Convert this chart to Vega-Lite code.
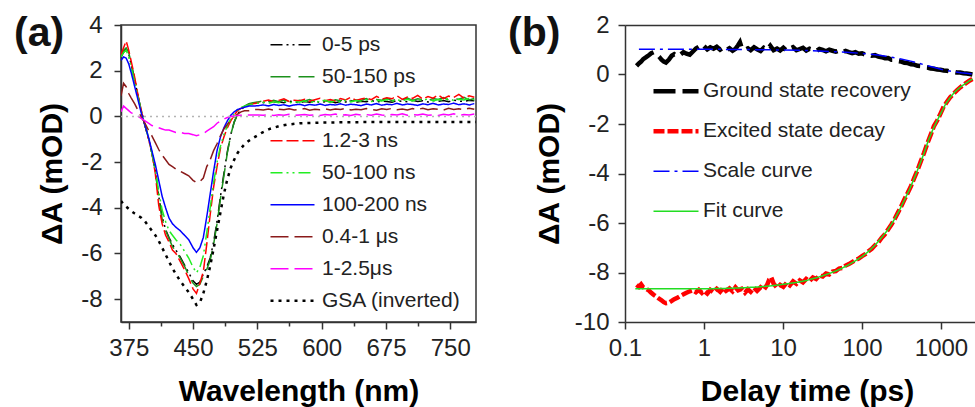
{
  "$schema": "https://vega.github.io/schema/vega-lite/v6.json",
  "background": "white",
  "padding": {"left": 13, "top": 12, "right": 0, "bottom": 0},
  "bounds": "flush",
  "spacing": 149,
  "config": {
    "view": {"stroke": null},
    "font": "Liberation Sans",
    "axis": {
      "domainColor": "#333", "domainWidth": 1.5, "tickColor": "#333", "tickWidth": 1.5, "tickSize": 7,
      "labelFont": "Liberation Sans", "labelFontSize": 24, "labelColor": "#222", "labelPadding": 7,
      "titleFont": "Liberation Sans", "titleFontSize": 30, "titleFontWeight": "bold", "titleColor": "#000",
      "grid": false, "labelFlush": false, "labelOverlap": false
    },
    "axisX": {"titlePadding": 16},
    "axisY": {"titlePadding": 8},
    "legend": {
      "orient": "none", "title": null, "symbolType": "stroke", "labelFont": "Liberation Sans",
      "labelFontSize": 21, "labelColor": "#222", "labelLimit": 400, "padding": 0, "rowPadding": 0, "symbolOffset": 0
    }
  },
  "resolve": {
    "scale": {"color": "independent", "strokeDash": "independent", "strokeWidth": "independent"},
    "legend": {"color": "independent", "strokeDash": "independent", "strokeWidth": "independent"}
  },
  "datasets": {
    "spectra": [
      {"s":"0-5 ps","nm":366,"dA":2.6},{"s":"0-5 ps","nm":369,"dA":2.8},{"s":"0-5 ps","nm":372,"dA":2.95},{"s":"0-5 ps","nm":375,"dA":2.75},{"s":"0-5 ps","nm":378,"dA":2.25},{"s":"0-5 ps","nm":382,"dA":1.6},{"s":"0-5 ps","nm":386,"dA":0.85},{"s":"0-5 ps","nm":390,"dA":0.2},{"s":"0-5 ps","nm":394,"dA":-0.4},{"s":"0-5 ps","nm":398,"dA":-0.95},{"s":"0-5 ps","nm":402,"dA":-1.6},{"s":"0-5 ps","nm":406,"dA":-2.35},{"s":"0-5 ps","nm":410,"dA":-3.5},{"s":"0-5 ps","nm":414,"dA":-4.4},{"s":"0-5 ps","nm":418,"dA":-4.95},{"s":"0-5 ps","nm":422,"dA":-5.3},{"s":"0-5 ps","nm":426,"dA":-5.6},{"s":"0-5 ps","nm":430,"dA":-5.85},{"s":"0-5 ps","nm":435,"dA":-6.15},{"s":"0-5 ps","nm":440,"dA":-6.5},{"s":"0-5 ps","nm":445,"dA":-6.85},{"s":"0-5 ps","nm":450,"dA":-7.2},{"s":"0-5 ps","nm":454,"dA":-7.35},{"s":"0-5 ps","nm":458,"dA":-7.25},{"s":"0-5 ps","nm":462,"dA":-6.9},{"s":"0-5 ps","nm":466,"dA":-6.6},{"s":"0-5 ps","nm":470,"dA":-6.2},{"s":"0-5 ps","nm":474,"dA":-5.5},{"s":"0-5 ps","nm":478,"dA":-4.6},{"s":"0-5 ps","nm":482,"dA":-3.5},{"s":"0-5 ps","nm":486,"dA":-2.5},{"s":"0-5 ps","nm":490,"dA":-1.55},{"s":"0-5 ps","nm":494,"dA":-0.8},{"s":"0-5 ps","nm":498,"dA":-0.25},{"s":"0-5 ps","nm":502,"dA":0.1},{"s":"0-5 ps","nm":506,"dA":0.3},{"s":"0-5 ps","nm":510,"dA":0.42},{"s":"0-5 ps","nm":515,"dA":0.52},{"s":"0-5 ps","nm":520,"dA":0.58},
      {"s":"0-5 ps","nm":526,"dA":0.62},{"s":"0-5 ps","nm":532,"dA":0.6},{"s":"0-5 ps","nm":538,"dA":0.66},{"s":"0-5 ps","nm":544,"dA":0.61},{"s":"0-5 ps","nm":550,"dA":0.64},{"s":"0-5 ps","nm":556,"dA":0.6},{"s":"0-5 ps","nm":562,"dA":0.67},{"s":"0-5 ps","nm":568,"dA":0.63},{"s":"0-5 ps","nm":574,"dA":0.6},{"s":"0-5 ps","nm":580,"dA":0.65},{"s":"0-5 ps","nm":586,"dA":0.62},{"s":"0-5 ps","nm":592,"dA":0.68},{"s":"0-5 ps","nm":598,"dA":0.61},{"s":"0-5 ps","nm":604,"dA":0.64},{"s":"0-5 ps","nm":610,"dA":0.66},{"s":"0-5 ps","nm":616,"dA":0.6},{"s":"0-5 ps","nm":622,"dA":0.65},{"s":"0-5 ps","nm":628,"dA":0.63},{"s":"0-5 ps","nm":634,"dA":0.69},{"s":"0-5 ps","nm":640,"dA":0.62},{"s":"0-5 ps","nm":646,"dA":0.66},{"s":"0-5 ps","nm":652,"dA":0.64},{"s":"0-5 ps","nm":658,"dA":0.7},{"s":"0-5 ps","nm":664,"dA":0.63},{"s":"0-5 ps","nm":670,"dA":0.67},{"s":"0-5 ps","nm":676,"dA":0.65},{"s":"0-5 ps","nm":682,"dA":0.62},{"s":"0-5 ps","nm":688,"dA":0.69},{"s":"0-5 ps","nm":694,"dA":0.66},{"s":"0-5 ps","nm":700,"dA":0.64},{"s":"0-5 ps","nm":706,"dA":0.7},{"s":"0-5 ps","nm":712,"dA":0.65},{"s":"0-5 ps","nm":718,"dA":0.68},{"s":"0-5 ps","nm":724,"dA":0.63},{"s":"0-5 ps","nm":730,"dA":0.7},{"s":"0-5 ps","nm":736,"dA":0.66},{"s":"0-5 ps","nm":742,"dA":0.69},{"s":"0-5 ps","nm":748,"dA":0.64},{"s":"0-5 ps","nm":754,"dA":0.71},{"s":"0-5 ps","nm":760,"dA":0.67},{"s":"0-5 ps","nm":766,"dA":0.65},{"s":"0-5 ps","nm":772,"dA":0.7},{"s":"0-5 ps","nm":778,"dA":0.68},

      {"s":"50-150 ps","nm":366,"dA":2.7},{"s":"50-150 ps","nm":369,"dA":2.9},{"s":"50-150 ps","nm":372,"dA":3.0},{"s":"50-150 ps","nm":375,"dA":2.8},{"s":"50-150 ps","nm":378,"dA":2.3},{"s":"50-150 ps","nm":382,"dA":1.6},{"s":"50-150 ps","nm":386,"dA":0.85},{"s":"50-150 ps","nm":390,"dA":0.2},{"s":"50-150 ps","nm":394,"dA":-0.4},{"s":"50-150 ps","nm":398,"dA":-0.95},{"s":"50-150 ps","nm":402,"dA":-1.6},{"s":"50-150 ps","nm":406,"dA":-2.4},{"s":"50-150 ps","nm":410,"dA":-3.6},{"s":"50-150 ps","nm":414,"dA":-4.5},{"s":"50-150 ps","nm":418,"dA":-5.0},{"s":"50-150 ps","nm":422,"dA":-5.35},{"s":"50-150 ps","nm":426,"dA":-5.7},{"s":"50-150 ps","nm":430,"dA":-5.9},{"s":"50-150 ps","nm":435,"dA":-6.2},{"s":"50-150 ps","nm":440,"dA":-6.55},{"s":"50-150 ps","nm":445,"dA":-6.95},{"s":"50-150 ps","nm":450,"dA":-7.3},{"s":"50-150 ps","nm":454,"dA":-7.45},{"s":"50-150 ps","nm":458,"dA":-7.35},{"s":"50-150 ps","nm":462,"dA":-7.0},{"s":"50-150 ps","nm":466,"dA":-6.7},{"s":"50-150 ps","nm":470,"dA":-6.3},{"s":"50-150 ps","nm":474,"dA":-5.6},{"s":"50-150 ps","nm":478,"dA":-4.7},{"s":"50-150 ps","nm":482,"dA":-3.6},{"s":"50-150 ps","nm":486,"dA":-2.6},{"s":"50-150 ps","nm":490,"dA":-1.6},{"s":"50-150 ps","nm":494,"dA":-0.8},{"s":"50-150 ps","nm":498,"dA":-0.25},{"s":"50-150 ps","nm":502,"dA":0.1},{"s":"50-150 ps","nm":506,"dA":0.3},{"s":"50-150 ps","nm":510,"dA":0.45},{"s":"50-150 ps","nm":515,"dA":0.55},{"s":"50-150 ps","nm":520,"dA":0.6},
      {"s":"50-150 ps","nm":526,"dA":0.63},{"s":"50-150 ps","nm":532,"dA":0.68},{"s":"50-150 ps","nm":538,"dA":0.62},{"s":"50-150 ps","nm":544,"dA":0.7},{"s":"50-150 ps","nm":550,"dA":0.64},{"s":"50-150 ps","nm":556,"dA":0.72},{"s":"50-150 ps","nm":562,"dA":0.66},{"s":"50-150 ps","nm":568,"dA":0.61},{"s":"50-150 ps","nm":574,"dA":0.7},{"s":"50-150 ps","nm":580,"dA":0.67},{"s":"50-150 ps","nm":586,"dA":0.74},{"s":"50-150 ps","nm":592,"dA":0.65},{"s":"50-150 ps","nm":598,"dA":0.71},{"s":"50-150 ps","nm":604,"dA":0.68},{"s":"50-150 ps","nm":610,"dA":0.63},{"s":"50-150 ps","nm":616,"dA":0.73},{"s":"50-150 ps","nm":622,"dA":0.69},{"s":"50-150 ps","nm":628,"dA":0.76},{"s":"50-150 ps","nm":634,"dA":0.66},{"s":"50-150 ps","nm":640,"dA":0.72},{"s":"50-150 ps","nm":646,"dA":0.7},{"s":"50-150 ps","nm":652,"dA":0.78},{"s":"50-150 ps","nm":658,"dA":0.68},{"s":"50-150 ps","nm":664,"dA":0.74},{"s":"50-150 ps","nm":670,"dA":0.71},{"s":"50-150 ps","nm":676,"dA":0.79},{"s":"50-150 ps","nm":682,"dA":0.69},{"s":"50-150 ps","nm":688,"dA":0.75},{"s":"50-150 ps","nm":694,"dA":0.72},{"s":"50-150 ps","nm":700,"dA":0.8},{"s":"50-150 ps","nm":706,"dA":0.7},{"s":"50-150 ps","nm":712,"dA":0.77},{"s":"50-150 ps","nm":718,"dA":0.73},{"s":"50-150 ps","nm":724,"dA":0.69},{"s":"50-150 ps","nm":730,"dA":0.78},{"s":"50-150 ps","nm":736,"dA":0.74},{"s":"50-150 ps","nm":742,"dA":0.82},{"s":"50-150 ps","nm":748,"dA":0.71},{"s":"50-150 ps","nm":754,"dA":0.77},{"s":"50-150 ps","nm":760,"dA":0.75},{"s":"50-150 ps","nm":766,"dA":0.83},{"s":"50-150 ps","nm":772,"dA":0.72},{"s":"50-150 ps","nm":778,"dA":0.78},

      {"s":"1.2-3 ns","nm":366,"dA":2.7},{"s":"1.2-3 ns","nm":369,"dA":3.0},{"s":"1.2-3 ns","nm":372,"dA":3.3},{"s":"1.2-3 ns","nm":375,"dA":2.9},{"s":"1.2-3 ns","nm":378,"dA":2.4},{"s":"1.2-3 ns","nm":382,"dA":1.7},{"s":"1.2-3 ns","nm":386,"dA":0.9},{"s":"1.2-3 ns","nm":390,"dA":0.2},{"s":"1.2-3 ns","nm":394,"dA":-0.4},{"s":"1.2-3 ns","nm":398,"dA":-0.95},{"s":"1.2-3 ns","nm":402,"dA":-1.6},{"s":"1.2-3 ns","nm":406,"dA":-2.5},{"s":"1.2-3 ns","nm":410,"dA":-3.9},{"s":"1.2-3 ns","nm":414,"dA":-4.7},{"s":"1.2-3 ns","nm":418,"dA":-5.2},{"s":"1.2-3 ns","nm":422,"dA":-5.5},{"s":"1.2-3 ns","nm":426,"dA":-5.85},{"s":"1.2-3 ns","nm":430,"dA":-6.0},{"s":"1.2-3 ns","nm":435,"dA":-6.35},{"s":"1.2-3 ns","nm":440,"dA":-6.7},{"s":"1.2-3 ns","nm":445,"dA":-7.1},{"s":"1.2-3 ns","nm":450,"dA":-7.55},{"s":"1.2-3 ns","nm":454,"dA":-7.75},{"s":"1.2-3 ns","nm":458,"dA":-7.3},{"s":"1.2-3 ns","nm":462,"dA":-6.8},{"s":"1.2-3 ns","nm":466,"dA":-5.6},{"s":"1.2-3 ns","nm":470,"dA":-4.3},{"s":"1.2-3 ns","nm":474,"dA":-3.1},{"s":"1.2-3 ns","nm":478,"dA":-2.2},{"s":"1.2-3 ns","nm":482,"dA":-1.4},{"s":"1.2-3 ns","nm":486,"dA":-0.9},{"s":"1.2-3 ns","nm":490,"dA":-0.5},{"s":"1.2-3 ns","nm":494,"dA":-0.2},{"s":"1.2-3 ns","nm":498,"dA":0.05},{"s":"1.2-3 ns","nm":502,"dA":0.25},{"s":"1.2-3 ns","nm":506,"dA":0.35},{"s":"1.2-3 ns","nm":510,"dA":0.45},{"s":"1.2-3 ns","nm":515,"dA":0.5},{"s":"1.2-3 ns","nm":520,"dA":0.55},
      {"s":"1.2-3 ns","nm":526,"dA":0.6},{"s":"1.2-3 ns","nm":532,"dA":0.66},{"s":"1.2-3 ns","nm":538,"dA":0.72},{"s":"1.2-3 ns","nm":544,"dA":0.64},{"s":"1.2-3 ns","nm":550,"dA":0.7},{"s":"1.2-3 ns","nm":556,"dA":0.77},{"s":"1.2-3 ns","nm":562,"dA":0.65},{"s":"1.2-3 ns","nm":568,"dA":0.71},{"s":"1.2-3 ns","nm":574,"dA":0.68},{"s":"1.2-3 ns","nm":580,"dA":0.75},{"s":"1.2-3 ns","nm":586,"dA":0.66},{"s":"1.2-3 ns","nm":592,"dA":0.73},{"s":"1.2-3 ns","nm":598,"dA":0.79},{"s":"1.2-3 ns","nm":604,"dA":0.69},{"s":"1.2-3 ns","nm":610,"dA":0.74},{"s":"1.2-3 ns","nm":616,"dA":0.67},{"s":"1.2-3 ns","nm":622,"dA":0.78},{"s":"1.2-3 ns","nm":628,"dA":0.72},{"s":"1.2-3 ns","nm":634,"dA":0.84},{"s":"1.2-3 ns","nm":640,"dA":0.7},{"s":"1.2-3 ns","nm":646,"dA":0.76},{"s":"1.2-3 ns","nm":652,"dA":0.81},{"s":"1.2-3 ns","nm":658,"dA":0.73},{"s":"1.2-3 ns","nm":664,"dA":0.88},{"s":"1.2-3 ns","nm":670,"dA":0.75},{"s":"1.2-3 ns","nm":676,"dA":0.82},{"s":"1.2-3 ns","nm":682,"dA":0.77},{"s":"1.2-3 ns","nm":688,"dA":0.9},{"s":"1.2-3 ns","nm":694,"dA":0.74},{"s":"1.2-3 ns","nm":700,"dA":0.85},{"s":"1.2-3 ns","nm":706,"dA":0.79},{"s":"1.2-3 ns","nm":712,"dA":0.92},{"s":"1.2-3 ns","nm":718,"dA":0.76},{"s":"1.2-3 ns","nm":724,"dA":0.87},{"s":"1.2-3 ns","nm":730,"dA":0.8},{"s":"1.2-3 ns","nm":736,"dA":0.94},{"s":"1.2-3 ns","nm":742,"dA":0.78},{"s":"1.2-3 ns","nm":748,"dA":0.89},{"s":"1.2-3 ns","nm":754,"dA":0.83},{"s":"1.2-3 ns","nm":760,"dA":0.96},{"s":"1.2-3 ns","nm":766,"dA":0.8},{"s":"1.2-3 ns","nm":772,"dA":0.9},{"s":"1.2-3 ns","nm":778,"dA":0.84},

      {"s":"50-100 ns","nm":366,"dA":2.6},{"s":"50-100 ns","nm":369,"dA":2.8},{"s":"50-100 ns","nm":372,"dA":2.9},{"s":"50-100 ns","nm":375,"dA":2.6},{"s":"50-100 ns","nm":378,"dA":2.1},{"s":"50-100 ns","nm":382,"dA":1.5},{"s":"50-100 ns","nm":386,"dA":0.8},{"s":"50-100 ns","nm":390,"dA":0.15},{"s":"50-100 ns","nm":394,"dA":-0.4},{"s":"50-100 ns","nm":398,"dA":-0.9},{"s":"50-100 ns","nm":402,"dA":-1.6},{"s":"50-100 ns","nm":406,"dA":-2.3},{"s":"50-100 ns","nm":410,"dA":-3.3},{"s":"50-100 ns","nm":414,"dA":-4.1},{"s":"50-100 ns","nm":418,"dA":-4.6},{"s":"50-100 ns","nm":422,"dA":-5.0},{"s":"50-100 ns","nm":426,"dA":-5.2},{"s":"50-100 ns","nm":430,"dA":-5.4},{"s":"50-100 ns","nm":435,"dA":-5.6},{"s":"50-100 ns","nm":440,"dA":-5.9},{"s":"50-100 ns","nm":445,"dA":-6.2},{"s":"50-100 ns","nm":450,"dA":-6.6},{"s":"50-100 ns","nm":454,"dA":-6.85},{"s":"50-100 ns","nm":458,"dA":-6.6},{"s":"50-100 ns","nm":462,"dA":-6.1},{"s":"50-100 ns","nm":466,"dA":-5.1},{"s":"50-100 ns","nm":470,"dA":-4.0},{"s":"50-100 ns","nm":474,"dA":-2.9},{"s":"50-100 ns","nm":478,"dA":-2.0},{"s":"50-100 ns","nm":482,"dA":-1.3},{"s":"50-100 ns","nm":486,"dA":-0.8},{"s":"50-100 ns","nm":490,"dA":-0.4},{"s":"50-100 ns","nm":494,"dA":-0.1},{"s":"50-100 ns","nm":498,"dA":0.1},{"s":"50-100 ns","nm":502,"dA":0.3},{"s":"50-100 ns","nm":506,"dA":0.4},{"s":"50-100 ns","nm":510,"dA":0.45},{"s":"50-100 ns","nm":515,"dA":0.5},{"s":"50-100 ns","nm":520,"dA":0.55},
      {"s":"50-100 ns","nm":526,"dA":0.58},{"s":"50-100 ns","nm":532,"dA":0.62},{"s":"50-100 ns","nm":538,"dA":0.57},{"s":"50-100 ns","nm":544,"dA":0.64},{"s":"50-100 ns","nm":550,"dA":0.6},{"s":"50-100 ns","nm":556,"dA":0.66},{"s":"50-100 ns","nm":562,"dA":0.59},{"s":"50-100 ns","nm":568,"dA":0.65},{"s":"50-100 ns","nm":574,"dA":0.62},{"s":"50-100 ns","nm":580,"dA":0.68},{"s":"50-100 ns","nm":586,"dA":0.6},{"s":"50-100 ns","nm":592,"dA":0.66},{"s":"50-100 ns","nm":598,"dA":0.63},{"s":"50-100 ns","nm":604,"dA":0.7},{"s":"50-100 ns","nm":610,"dA":0.62},{"s":"50-100 ns","nm":616,"dA":0.67},{"s":"50-100 ns","nm":622,"dA":0.64},{"s":"50-100 ns","nm":628,"dA":0.71},{"s":"50-100 ns","nm":634,"dA":0.63},{"s":"50-100 ns","nm":640,"dA":0.69},{"s":"50-100 ns","nm":646,"dA":0.66},{"s":"50-100 ns","nm":652,"dA":0.73},{"s":"50-100 ns","nm":658,"dA":0.65},{"s":"50-100 ns","nm":664,"dA":0.7},{"s":"50-100 ns","nm":670,"dA":0.67},{"s":"50-100 ns","nm":676,"dA":0.74},{"s":"50-100 ns","nm":682,"dA":0.66},{"s":"50-100 ns","nm":688,"dA":0.72},{"s":"50-100 ns","nm":694,"dA":0.68},{"s":"50-100 ns","nm":700,"dA":0.75},{"s":"50-100 ns","nm":706,"dA":0.67},{"s":"50-100 ns","nm":712,"dA":0.73},{"s":"50-100 ns","nm":718,"dA":0.7},{"s":"50-100 ns","nm":724,"dA":0.77},{"s":"50-100 ns","nm":730,"dA":0.68},{"s":"50-100 ns","nm":736,"dA":0.74},{"s":"50-100 ns","nm":742,"dA":0.71},{"s":"50-100 ns","nm":748,"dA":0.78},{"s":"50-100 ns","nm":754,"dA":0.7},{"s":"50-100 ns","nm":760,"dA":0.75},{"s":"50-100 ns","nm":766,"dA":0.72},{"s":"50-100 ns","nm":772,"dA":0.79},{"s":"50-100 ns","nm":778,"dA":0.73},

      {"s":"100-200 ns","nm":366,"dA":2.45},{"s":"100-200 ns","nm":369,"dA":2.6},{"s":"100-200 ns","nm":372,"dA":2.55},{"s":"100-200 ns","nm":375,"dA":2.3},{"s":"100-200 ns","nm":378,"dA":1.9},{"s":"100-200 ns","nm":382,"dA":1.3},{"s":"100-200 ns","nm":386,"dA":0.7},{"s":"100-200 ns","nm":390,"dA":0.1},{"s":"100-200 ns","nm":394,"dA":-0.4},{"s":"100-200 ns","nm":398,"dA":-0.9},{"s":"100-200 ns","nm":402,"dA":-1.5},{"s":"100-200 ns","nm":406,"dA":-2.1},{"s":"100-200 ns","nm":410,"dA":-2.8},{"s":"100-200 ns","nm":414,"dA":-3.5},{"s":"100-200 ns","nm":418,"dA":-4.0},{"s":"100-200 ns","nm":422,"dA":-4.45},{"s":"100-200 ns","nm":426,"dA":-4.7},{"s":"100-200 ns","nm":430,"dA":-4.85},{"s":"100-200 ns","nm":435,"dA":-5.0},{"s":"100-200 ns","nm":440,"dA":-5.2},{"s":"100-200 ns","nm":445,"dA":-5.4},{"s":"100-200 ns","nm":450,"dA":-5.75},{"s":"100-200 ns","nm":454,"dA":-5.95},{"s":"100-200 ns","nm":458,"dA":-5.75},{"s":"100-200 ns","nm":462,"dA":-5.3},{"s":"100-200 ns","nm":466,"dA":-4.4},{"s":"100-200 ns","nm":470,"dA":-3.4},{"s":"100-200 ns","nm":474,"dA":-2.4},{"s":"100-200 ns","nm":478,"dA":-1.5},{"s":"100-200 ns","nm":482,"dA":-0.9},{"s":"100-200 ns","nm":486,"dA":-0.5},{"s":"100-200 ns","nm":490,"dA":-0.2},{"s":"100-200 ns","nm":494,"dA":0.05},{"s":"100-200 ns","nm":498,"dA":0.2},{"s":"100-200 ns","nm":502,"dA":0.3},{"s":"100-200 ns","nm":506,"dA":0.35},{"s":"100-200 ns","nm":510,"dA":0.4},{"s":"100-200 ns","nm":515,"dA":0.45},{"s":"100-200 ns","nm":520,"dA":0.45},
      {"s":"100-200 ns","nm":526,"dA":0.47},{"s":"100-200 ns","nm":532,"dA":0.5},{"s":"100-200 ns","nm":538,"dA":0.46},{"s":"100-200 ns","nm":544,"dA":0.52},{"s":"100-200 ns","nm":550,"dA":0.48},{"s":"100-200 ns","nm":556,"dA":0.51},{"s":"100-200 ns","nm":562,"dA":0.45},{"s":"100-200 ns","nm":568,"dA":0.5},{"s":"100-200 ns","nm":574,"dA":0.53},{"s":"100-200 ns","nm":580,"dA":0.47},{"s":"100-200 ns","nm":586,"dA":0.52},{"s":"100-200 ns","nm":592,"dA":0.49},{"s":"100-200 ns","nm":598,"dA":0.54},{"s":"100-200 ns","nm":604,"dA":0.48},{"s":"100-200 ns","nm":610,"dA":0.52},{"s":"100-200 ns","nm":616,"dA":0.5},{"s":"100-200 ns","nm":622,"dA":0.55},{"s":"100-200 ns","nm":628,"dA":0.49},{"s":"100-200 ns","nm":634,"dA":0.53},{"s":"100-200 ns","nm":640,"dA":0.51},{"s":"100-200 ns","nm":646,"dA":0.47},{"s":"100-200 ns","nm":652,"dA":0.54},{"s":"100-200 ns","nm":658,"dA":0.5},{"s":"100-200 ns","nm":664,"dA":0.56},{"s":"100-200 ns","nm":670,"dA":0.49},{"s":"100-200 ns","nm":676,"dA":0.53},{"s":"100-200 ns","nm":682,"dA":0.51},{"s":"100-200 ns","nm":688,"dA":0.57},{"s":"100-200 ns","nm":694,"dA":0.5},{"s":"100-200 ns","nm":700,"dA":0.54},{"s":"100-200 ns","nm":706,"dA":0.52},{"s":"100-200 ns","nm":712,"dA":0.48},{"s":"100-200 ns","nm":718,"dA":0.55},{"s":"100-200 ns","nm":724,"dA":0.51},{"s":"100-200 ns","nm":730,"dA":0.57},{"s":"100-200 ns","nm":736,"dA":0.5},{"s":"100-200 ns","nm":742,"dA":0.54},{"s":"100-200 ns","nm":748,"dA":0.52},{"s":"100-200 ns","nm":754,"dA":0.58},{"s":"100-200 ns","nm":760,"dA":0.51},{"s":"100-200 ns","nm":766,"dA":0.55},{"s":"100-200 ns","nm":772,"dA":0.5},{"s":"100-200 ns","nm":778,"dA":0.56},

      {"s":"0.4-1 μs","nm":366,"dA":0.9},{"s":"0.4-1 μs","nm":369,"dA":1.45},{"s":"0.4-1 μs","nm":372,"dA":1.3},{"s":"0.4-1 μs","nm":375,"dA":1.0},{"s":"0.4-1 μs","nm":378,"dA":0.8},{"s":"0.4-1 μs","nm":382,"dA":0.55},{"s":"0.4-1 μs","nm":386,"dA":0.25},{"s":"0.4-1 μs","nm":390,"dA":-0.05},{"s":"0.4-1 μs","nm":394,"dA":-0.3},{"s":"0.4-1 μs","nm":398,"dA":-0.6},{"s":"0.4-1 μs","nm":402,"dA":-0.85},{"s":"0.4-1 μs","nm":406,"dA":-1.15},{"s":"0.4-1 μs","nm":410,"dA":-1.45},{"s":"0.4-1 μs","nm":414,"dA":-1.7},{"s":"0.4-1 μs","nm":418,"dA":-1.9},{"s":"0.4-1 μs","nm":422,"dA":-2.1},{"s":"0.4-1 μs","nm":426,"dA":-2.2},{"s":"0.4-1 μs","nm":430,"dA":-2.3},{"s":"0.4-1 μs","nm":435,"dA":-2.4},{"s":"0.4-1 μs","nm":440,"dA":-2.5},{"s":"0.4-1 μs","nm":445,"dA":-2.6},{"s":"0.4-1 μs","nm":450,"dA":-2.8},{"s":"0.4-1 μs","nm":454,"dA":-2.9},{"s":"0.4-1 μs","nm":458,"dA":-2.85},{"s":"0.4-1 μs","nm":462,"dA":-2.7},{"s":"0.4-1 μs","nm":466,"dA":-2.2},{"s":"0.4-1 μs","nm":470,"dA":-1.9},{"s":"0.4-1 μs","nm":474,"dA":-1.5},{"s":"0.4-1 μs","nm":478,"dA":-1.2},{"s":"0.4-1 μs","nm":482,"dA":-0.85},{"s":"0.4-1 μs","nm":486,"dA":-0.55},{"s":"0.4-1 μs","nm":490,"dA":-0.35},{"s":"0.4-1 μs","nm":494,"dA":-0.15},{"s":"0.4-1 μs","nm":498,"dA":-0.02},{"s":"0.4-1 μs","nm":502,"dA":0.1},{"s":"0.4-1 μs","nm":506,"dA":0.2},{"s":"0.4-1 μs","nm":510,"dA":0.25},{"s":"0.4-1 μs","nm":515,"dA":0.25},{"s":"0.4-1 μs","nm":520,"dA":0.3},
      {"s":"0.4-1 μs","nm":526,"dA":0.3},{"s":"0.4-1 μs","nm":532,"dA":0.28},{"s":"0.4-1 μs","nm":538,"dA":0.32},{"s":"0.4-1 μs","nm":544,"dA":0.27},{"s":"0.4-1 μs","nm":550,"dA":0.31},{"s":"0.4-1 μs","nm":556,"dA":0.29},{"s":"0.4-1 μs","nm":562,"dA":0.33},{"s":"0.4-1 μs","nm":568,"dA":0.28},{"s":"0.4-1 μs","nm":574,"dA":0.3},{"s":"0.4-1 μs","nm":580,"dA":0.34},{"s":"0.4-1 μs","nm":586,"dA":0.27},{"s":"0.4-1 μs","nm":592,"dA":0.31},{"s":"0.4-1 μs","nm":598,"dA":0.29},{"s":"0.4-1 μs","nm":604,"dA":0.33},{"s":"0.4-1 μs","nm":610,"dA":0.28},{"s":"0.4-1 μs","nm":616,"dA":0.32},{"s":"0.4-1 μs","nm":622,"dA":0.3},{"s":"0.4-1 μs","nm":628,"dA":0.35},{"s":"0.4-1 μs","nm":634,"dA":0.28},{"s":"0.4-1 μs","nm":640,"dA":0.31},{"s":"0.4-1 μs","nm":646,"dA":0.29},{"s":"0.4-1 μs","nm":652,"dA":0.34},{"s":"0.4-1 μs","nm":658,"dA":0.3},{"s":"0.4-1 μs","nm":664,"dA":0.27},{"s":"0.4-1 μs","nm":670,"dA":0.33},{"s":"0.4-1 μs","nm":676,"dA":0.3},{"s":"0.4-1 μs","nm":682,"dA":0.35},{"s":"0.4-1 μs","nm":688,"dA":0.29},{"s":"0.4-1 μs","nm":694,"dA":0.32},{"s":"0.4-1 μs","nm":700,"dA":0.28},{"s":"0.4-1 μs","nm":706,"dA":0.34},{"s":"0.4-1 μs","nm":712,"dA":0.3},{"s":"0.4-1 μs","nm":718,"dA":0.36},{"s":"0.4-1 μs","nm":724,"dA":0.29},{"s":"0.4-1 μs","nm":730,"dA":0.33},{"s":"0.4-1 μs","nm":736,"dA":0.31},{"s":"0.4-1 μs","nm":742,"dA":0.28},{"s":"0.4-1 μs","nm":748,"dA":0.35},{"s":"0.4-1 μs","nm":754,"dA":0.3},{"s":"0.4-1 μs","nm":760,"dA":0.33},{"s":"0.4-1 μs","nm":766,"dA":0.29},{"s":"0.4-1 μs","nm":772,"dA":0.36},{"s":"0.4-1 μs","nm":778,"dA":0.31},

      {"s":"1-2.5μs","nm":366,"dA":0.2},{"s":"1-2.5μs","nm":369,"dA":0.45},{"s":"1-2.5μs","nm":372,"dA":0.35},{"s":"1-2.5μs","nm":375,"dA":0.25},{"s":"1-2.5μs","nm":378,"dA":0.15},{"s":"1-2.5μs","nm":382,"dA":0.1},{"s":"1-2.5μs","nm":386,"dA":0.0},{"s":"1-2.5μs","nm":390,"dA":-0.1},{"s":"1-2.5μs","nm":394,"dA":-0.2},{"s":"1-2.5μs","nm":398,"dA":-0.3},{"s":"1-2.5μs","nm":402,"dA":-0.4},{"s":"1-2.5μs","nm":406,"dA":-0.45},{"s":"1-2.5μs","nm":410,"dA":-0.5},{"s":"1-2.5μs","nm":414,"dA":-0.55},{"s":"1-2.5μs","nm":418,"dA":-0.6},{"s":"1-2.5μs","nm":422,"dA":-0.6},{"s":"1-2.5μs","nm":426,"dA":-0.65},{"s":"1-2.5μs","nm":430,"dA":-0.7},{"s":"1-2.5μs","nm":435,"dA":-0.7},{"s":"1-2.5μs","nm":440,"dA":-0.75},{"s":"1-2.5μs","nm":445,"dA":-0.75},{"s":"1-2.5μs","nm":450,"dA":-0.8},{"s":"1-2.5μs","nm":454,"dA":-0.85},{"s":"1-2.5μs","nm":458,"dA":-0.8},{"s":"1-2.5μs","nm":462,"dA":-0.75},{"s":"1-2.5μs","nm":466,"dA":-0.65},{"s":"1-2.5μs","nm":470,"dA":-0.55},{"s":"1-2.5μs","nm":474,"dA":-0.45},{"s":"1-2.5μs","nm":478,"dA":-0.3},{"s":"1-2.5μs","nm":482,"dA":-0.2},{"s":"1-2.5μs","nm":486,"dA":-0.12},{"s":"1-2.5μs","nm":490,"dA":-0.05},{"s":"1-2.5μs","nm":494,"dA":0.0},{"s":"1-2.5μs","nm":498,"dA":0.02},{"s":"1-2.5μs","nm":502,"dA":0.04},{"s":"1-2.5μs","nm":506,"dA":0.05},{"s":"1-2.5μs","nm":510,"dA":0.05},{"s":"1-2.5μs","nm":515,"dA":0.06},{"s":"1-2.5μs","nm":520,"dA":0.06},
      {"s":"1-2.5μs","nm":526,"dA":0.06},{"s":"1-2.5μs","nm":532,"dA":0.05},{"s":"1-2.5μs","nm":538,"dA":0.08},{"s":"1-2.5μs","nm":544,"dA":0.04},{"s":"1-2.5μs","nm":550,"dA":0.07},{"s":"1-2.5μs","nm":556,"dA":0.05},{"s":"1-2.5μs","nm":562,"dA":0.09},{"s":"1-2.5μs","nm":568,"dA":0.04},{"s":"1-2.5μs","nm":574,"dA":0.06},{"s":"1-2.5μs","nm":580,"dA":0.08},{"s":"1-2.5μs","nm":586,"dA":0.05},{"s":"1-2.5μs","nm":592,"dA":0.07},{"s":"1-2.5μs","nm":598,"dA":0.04},{"s":"1-2.5μs","nm":604,"dA":0.08},{"s":"1-2.5μs","nm":610,"dA":0.06},{"s":"1-2.5μs","nm":616,"dA":0.1},{"s":"1-2.5μs","nm":622,"dA":0.05},{"s":"1-2.5μs","nm":628,"dA":0.07},{"s":"1-2.5μs","nm":634,"dA":0.04},{"s":"1-2.5μs","nm":640,"dA":0.09},{"s":"1-2.5μs","nm":646,"dA":0.06},{"s":"1-2.5μs","nm":652,"dA":0.08},{"s":"1-2.5μs","nm":658,"dA":0.05},{"s":"1-2.5μs","nm":664,"dA":0.1},{"s":"1-2.5μs","nm":670,"dA":0.06},{"s":"1-2.5μs","nm":676,"dA":0.04},{"s":"1-2.5μs","nm":682,"dA":0.08},{"s":"1-2.5μs","nm":688,"dA":0.06},{"s":"1-2.5μs","nm":694,"dA":0.11},{"s":"1-2.5μs","nm":700,"dA":0.05},{"s":"1-2.5μs","nm":706,"dA":0.08},{"s":"1-2.5μs","nm":712,"dA":0.06},{"s":"1-2.5μs","nm":718,"dA":0.1},{"s":"1-2.5μs","nm":724,"dA":0.05},{"s":"1-2.5μs","nm":730,"dA":0.07},{"s":"1-2.5μs","nm":736,"dA":0.04},{"s":"1-2.5μs","nm":742,"dA":0.09},{"s":"1-2.5μs","nm":748,"dA":0.06},{"s":"1-2.5μs","nm":754,"dA":0.11},{"s":"1-2.5μs","nm":760,"dA":0.05},{"s":"1-2.5μs","nm":766,"dA":0.08},{"s":"1-2.5μs","nm":772,"dA":0.06},{"s":"1-2.5μs","nm":778,"dA":0.1},

      {"s":"GSA (inverted)","nm":366,"dA":-3.7},{"s":"GSA (inverted)","nm":369,"dA":-3.85},{"s":"GSA (inverted)","nm":372,"dA":-3.95},{"s":"GSA (inverted)","nm":375,"dA":-4.05},{"s":"GSA (inverted)","nm":378,"dA":-4.15},{"s":"GSA (inverted)","nm":382,"dA":-4.25},{"s":"GSA (inverted)","nm":386,"dA":-4.35},{"s":"GSA (inverted)","nm":390,"dA":-4.45},{"s":"GSA (inverted)","nm":394,"dA":-4.6},{"s":"GSA (inverted)","nm":398,"dA":-4.8},{"s":"GSA (inverted)","nm":402,"dA":-5.0},{"s":"GSA (inverted)","nm":406,"dA":-5.2},{"s":"GSA (inverted)","nm":410,"dA":-5.45},{"s":"GSA (inverted)","nm":414,"dA":-5.75},{"s":"GSA (inverted)","nm":418,"dA":-6.05},{"s":"GSA (inverted)","nm":422,"dA":-6.35},{"s":"GSA (inverted)","nm":426,"dA":-6.65},{"s":"GSA (inverted)","nm":430,"dA":-6.9},{"s":"GSA (inverted)","nm":435,"dA":-7.2},{"s":"GSA (inverted)","nm":440,"dA":-7.45},{"s":"GSA (inverted)","nm":445,"dA":-7.7},{"s":"GSA (inverted)","nm":450,"dA":-8.0},{"s":"GSA (inverted)","nm":454,"dA":-8.25},{"s":"GSA (inverted)","nm":458,"dA":-8.15},{"s":"GSA (inverted)","nm":462,"dA":-7.75},{"s":"GSA (inverted)","nm":466,"dA":-7.2},{"s":"GSA (inverted)","nm":470,"dA":-6.55},{"s":"GSA (inverted)","nm":474,"dA":-5.8},{"s":"GSA (inverted)","nm":478,"dA":-5.0},{"s":"GSA (inverted)","nm":482,"dA":-4.2},{"s":"GSA (inverted)","nm":486,"dA":-3.4},{"s":"GSA (inverted)","nm":490,"dA":-2.75},{"s":"GSA (inverted)","nm":494,"dA":-2.25},{"s":"GSA (inverted)","nm":498,"dA":-1.9},{"s":"GSA (inverted)","nm":502,"dA":-1.6},{"s":"GSA (inverted)","nm":506,"dA":-1.4},{"s":"GSA (inverted)","nm":510,"dA":-1.22},{"s":"GSA (inverted)","nm":515,"dA":-1.07},{"s":"GSA (inverted)","nm":520,"dA":-0.95},{"s":"GSA (inverted)","nm":530,"dA":-0.72},{"s":"GSA (inverted)","nm":540,"dA":-0.54},{"s":"GSA (inverted)","nm":550,"dA":-0.43},{"s":"GSA (inverted)","nm":560,"dA":-0.36},{"s":"GSA (inverted)","nm":575,"dA":-0.3},{"s":"GSA (inverted)","nm":600,"dA":-0.27},{"s":"GSA (inverted)","nm":650,"dA":-0.25},{"s":"GSA (inverted)","nm":700,"dA":-0.25},{"s":"GSA (inverted)","nm":750,"dA":-0.25},{"s":"GSA (inverted)","nm":780,"dA":-0.25}
    ],
    "kinetics": [
      {"tr":"Ground state recovery","t":0.14,"dA":0.35},{"tr":"Ground state recovery","t":0.15,"dA":0.45},{"tr":"Ground state recovery","t":0.16,"dA":0.52},{"tr":"Ground state recovery","t":0.17,"dA":0.62},{"tr":"Ground state recovery","t":0.185,"dA":0.7},{"tr":"Ground state recovery","t":0.2,"dA":0.78},{"tr":"Ground state recovery","t":0.215,"dA":0.86},{"tr":"Ground state recovery","t":0.23,"dA":0.9},{"tr":"Ground state recovery","t":0.25,"dA":0.82},{"tr":"Ground state recovery","t":0.27,"dA":0.72},{"tr":"Ground state recovery","t":0.29,"dA":0.6},{"tr":"Ground state recovery","t":0.31,"dA":0.52},{"tr":"Ground state recovery","t":0.33,"dA":0.48},{"tr":"Ground state recovery","t":0.36,"dA":0.6},{"tr":"Ground state recovery","t":0.39,"dA":0.76},{"tr":"Ground state recovery","t":0.42,"dA":0.82},{"tr":"Ground state recovery","t":0.46,"dA":0.74},{"tr":"Ground state recovery","t":0.5,"dA":0.8},{"tr":"Ground state recovery","t":0.55,"dA":0.9},{"tr":"Ground state recovery","t":0.6,"dA":0.84},{"tr":"Ground state recovery","t":0.66,"dA":0.8},{"tr":"Ground state recovery","t":0.72,"dA":0.92},{"tr":"Ground state recovery","t":0.79,"dA":1.05},{"tr":"Ground state recovery","t":0.86,"dA":1.12},{"tr":"Ground state recovery","t":0.94,"dA":1.05},{"tr":"Ground state recovery","t":1.0,"dA":1.15},{"tr":"Ground state recovery","t":1.1,"dA":1.02},{"tr":"Ground state recovery","t":1.2,"dA":1.1},{"tr":"Ground state recovery","t":1.32,"dA":1.04},{"tr":"Ground state recovery","t":1.45,"dA":1.12},{"tr":"Ground state recovery","t":1.6,"dA":1.0},{"tr":"Ground state recovery","t":1.75,"dA":1.08},{"tr":"Ground state recovery","t":1.9,"dA":0.98},{"tr":"Ground state recovery","t":2.1,"dA":1.06},{"tr":"Ground state recovery","t":2.3,"dA":0.96},{"tr":"Ground state recovery","t":2.5,"dA":1.04},{"tr":"Ground state recovery","t":2.7,"dA":1.18},{"tr":"Ground state recovery","t":2.85,"dA":1.3},{"tr":"Ground state recovery","t":3.0,"dA":1.08},{"tr":"Ground state recovery","t":3.3,"dA":1.0},{"tr":"Ground state recovery","t":3.6,"dA":1.06},{"tr":"Ground state recovery","t":3.9,"dA":0.98},{"tr":"Ground state recovery","t":4.3,"dA":1.1},{"tr":"Ground state recovery","t":4.7,"dA":1.02},{"tr":"Ground state recovery","t":5.2,"dA":0.95},{"tr":"Ground state recovery","t":5.7,"dA":1.08},{"tr":"Ground state recovery","t":6.3,"dA":1.0},{"tr":"Ground state recovery","t":6.9,"dA":1.16},{"tr":"Ground state recovery","t":7.6,"dA":0.98},{"tr":"Ground state recovery","t":8.4,"dA":1.05},{"tr":"Ground state recovery","t":9.2,"dA":0.97},{"tr":"Ground state recovery","t":10.1,"dA":1.08},{"tr":"Ground state recovery","t":11.1,"dA":0.96},{"tr":"Ground state recovery","t":12.2,"dA":1.04},{"tr":"Ground state recovery","t":13.4,"dA":1.1},{"tr":"Ground state recovery","t":14.8,"dA":0.98},{"tr":"Ground state recovery","t":16.3,"dA":1.03},{"tr":"Ground state recovery","t":17.9,"dA":1.08},{"tr":"Ground state recovery","t":19.7,"dA":0.97},{"tr":"Ground state recovery","t":21.7,"dA":1.04},{"tr":"Ground state recovery","t":23.9,"dA":1.0},{"tr":"Ground state recovery","t":26.3,"dA":0.95},{"tr":"Ground state recovery","t":28.9,"dA":1.03},{"tr":"Ground state recovery","t":31.8,"dA":0.99},{"tr":"Ground state recovery","t":35,"dA":0.94},{"tr":"Ground state recovery","t":38.5,"dA":1.0},{"tr":"Ground state recovery","t":42.4,"dA":0.96},{"tr":"Ground state recovery","t":46.6,"dA":0.92},{"tr":"Ground state recovery","t":51.3,"dA":0.97},{"tr":"Ground state recovery","t":56.4,"dA":0.9},{"tr":"Ground state recovery","t":62,"dA":0.95},{"tr":"Ground state recovery","t":68.2,"dA":0.9},{"tr":"Ground state recovery","t":75,"dA":0.86},{"tr":"Ground state recovery","t":82.5,"dA":0.9},{"tr":"Ground state recovery","t":90.8,"dA":0.84},{"tr":"Ground state recovery","t":100,"dA":0.86},{"tr":"Ground state recovery","t":110,"dA":0.8},{"tr":"Ground state recovery","t":121,"dA":0.82},{"tr":"Ground state recovery","t":133,"dA":0.76},{"tr":"Ground state recovery","t":146,"dA":0.78},{"tr":"Ground state recovery","t":161,"dA":0.72},{"tr":"Ground state recovery","t":177,"dA":0.7},{"tr":"Ground state recovery","t":195,"dA":0.66},{"tr":"Ground state recovery","t":214,"dA":0.67},{"tr":"Ground state recovery","t":236,"dA":0.6},{"tr":"Ground state recovery","t":259,"dA":0.6},{"tr":"Ground state recovery","t":285,"dA":0.54},{"tr":"Ground state recovery","t":314,"dA":0.52},{"tr":"Ground state recovery","t":345,"dA":0.47},{"tr":"Ground state recovery","t":380,"dA":0.46},{"tr":"Ground state recovery","t":418,"dA":0.41},{"tr":"Ground state recovery","t":459,"dA":0.4},{"tr":"Ground state recovery","t":505,"dA":0.35},{"tr":"Ground state recovery","t":556,"dA":0.34},{"tr":"Ground state recovery","t":611,"dA":0.29},{"tr":"Ground state recovery","t":673,"dA":0.28},{"tr":"Ground state recovery","t":740,"dA":0.24},{"tr":"Ground state recovery","t":814,"dA":0.23},{"tr":"Ground state recovery","t":895,"dA":0.2},{"tr":"Ground state recovery","t":985,"dA":0.19},{"tr":"Ground state recovery","t":1080,"dA":0.16},{"tr":"Ground state recovery","t":1190,"dA":0.15},{"tr":"Ground state recovery","t":1310,"dA":0.12},{"tr":"Ground state recovery","t":1440,"dA":0.11},{"tr":"Ground state recovery","t":1590,"dA":0.08},{"tr":"Ground state recovery","t":1750,"dA":0.08},{"tr":"Ground state recovery","t":1920,"dA":0.05},{"tr":"Ground state recovery","t":2110,"dA":0.04},{"tr":"Ground state recovery","t":2320,"dA":0.02},{"tr":"Ground state recovery","t":2500,"dA":0.0},

      {"tr":"Scale curve","t":0.15,"dA":1.02},{"tr":"Scale curve","t":0.5,"dA":1.02},{"tr":"Scale curve","t":1,"dA":1.02},{"tr":"Scale curve","t":3,"dA":1.01},{"tr":"Scale curve","t":6,"dA":1.0},{"tr":"Scale curve","t":10,"dA":0.99},{"tr":"Scale curve","t":20,"dA":0.97},{"tr":"Scale curve","t":40,"dA":0.93},{"tr":"Scale curve","t":70,"dA":0.89},{"tr":"Scale curve","t":100,"dA":0.85},{"tr":"Scale curve","t":150,"dA":0.8},{"tr":"Scale curve","t":200,"dA":0.74},{"tr":"Scale curve","t":300,"dA":0.64},{"tr":"Scale curve","t":400,"dA":0.55},{"tr":"Scale curve","t":500,"dA":0.47},{"tr":"Scale curve","t":600,"dA":0.4},{"tr":"Scale curve","t":700,"dA":0.34},{"tr":"Scale curve","t":850,"dA":0.27},{"tr":"Scale curve","t":1000,"dA":0.21},{"tr":"Scale curve","t":1250,"dA":0.15},{"tr":"Scale curve","t":1500,"dA":0.11},{"tr":"Scale curve","t":1800,"dA":0.07},{"tr":"Scale curve","t":2100,"dA":0.05},{"tr":"Scale curve","t":2500,"dA":0.02},

      {"tr":"Excited state decay","t":0.14,"dA":-8.5},{"tr":"Excited state decay","t":0.15,"dA":-8.58},{"tr":"Excited state decay","t":0.16,"dA":-8.48},{"tr":"Excited state decay","t":0.17,"dA":-8.6},{"tr":"Excited state decay","t":0.185,"dA":-8.66},{"tr":"Excited state decay","t":0.2,"dA":-8.72},{"tr":"Excited state decay","t":0.215,"dA":-8.82},{"tr":"Excited state decay","t":0.23,"dA":-8.9},{"tr":"Excited state decay","t":0.25,"dA":-8.98},{"tr":"Excited state decay","t":0.27,"dA":-9.06},{"tr":"Excited state decay","t":0.29,"dA":-9.12},{"tr":"Excited state decay","t":0.31,"dA":-9.2},{"tr":"Excited state decay","t":0.33,"dA":-9.24},{"tr":"Excited state decay","t":0.36,"dA":-9.22},{"tr":"Excited state decay","t":0.39,"dA":-9.15},{"tr":"Excited state decay","t":0.42,"dA":-9.08},{"tr":"Excited state decay","t":0.46,"dA":-9.02},{"tr":"Excited state decay","t":0.5,"dA":-8.95},{"tr":"Excited state decay","t":0.55,"dA":-8.88},{"tr":"Excited state decay","t":0.6,"dA":-8.82},{"tr":"Excited state decay","t":0.66,"dA":-8.76},{"tr":"Excited state decay","t":0.72,"dA":-8.72},{"tr":"Excited state decay","t":0.79,"dA":-8.8},{"tr":"Excited state decay","t":0.86,"dA":-8.7},{"tr":"Excited state decay","t":0.94,"dA":-8.82},{"tr":"Excited state decay","t":1.0,"dA":-8.74},{"tr":"Excited state decay","t":1.1,"dA":-8.85},{"tr":"Excited state decay","t":1.2,"dA":-8.7},{"tr":"Excited state decay","t":1.32,"dA":-8.8},{"tr":"Excited state decay","t":1.45,"dA":-8.66},{"tr":"Excited state decay","t":1.6,"dA":-8.78},{"tr":"Excited state decay","t":1.75,"dA":-8.62},{"tr":"Excited state decay","t":1.9,"dA":-8.74},{"tr":"Excited state decay","t":2.1,"dA":-8.64},{"tr":"Excited state decay","t":2.3,"dA":-8.76},{"tr":"Excited state decay","t":2.5,"dA":-8.6},{"tr":"Excited state decay","t":2.7,"dA":-8.72},{"tr":"Excited state decay","t":3.0,"dA":-8.66},{"tr":"Excited state decay","t":3.3,"dA":-8.82},{"tr":"Excited state decay","t":3.6,"dA":-8.68},{"tr":"Excited state decay","t":3.9,"dA":-8.78},{"tr":"Excited state decay","t":4.3,"dA":-8.62},{"tr":"Excited state decay","t":4.7,"dA":-8.74},{"tr":"Excited state decay","t":5.2,"dA":-8.6},{"tr":"Excited state decay","t":5.7,"dA":-8.7},{"tr":"Excited state decay","t":6.3,"dA":-8.5},{"tr":"Excited state decay","t":6.7,"dA":-8.28},{"tr":"Excited state decay","t":7.1,"dA":-8.2},{"tr":"Excited state decay","t":7.6,"dA":-8.45},{"tr":"Excited state decay","t":8.4,"dA":-8.62},{"tr":"Excited state decay","t":9.2,"dA":-8.5},{"tr":"Excited state decay","t":10.1,"dA":-8.58},{"tr":"Excited state decay","t":11.1,"dA":-8.42},{"tr":"Excited state decay","t":12.2,"dA":-8.52},{"tr":"Excited state decay","t":13.4,"dA":-8.36},{"tr":"Excited state decay","t":14.8,"dA":-8.46},{"tr":"Excited state decay","t":16.3,"dA":-8.32},{"tr":"Excited state decay","t":17.9,"dA":-8.4},{"tr":"Excited state decay","t":19.7,"dA":-8.26},{"tr":"Excited state decay","t":21.7,"dA":-8.34},{"tr":"Excited state decay","t":23.9,"dA":-8.2},{"tr":"Excited state decay","t":26.3,"dA":-8.26},{"tr":"Excited state decay","t":28.9,"dA":-8.12},{"tr":"Excited state decay","t":31.8,"dA":-8.16},{"tr":"Excited state decay","t":35,"dA":-8.04},{"tr":"Excited state decay","t":38.5,"dA":-8.08},{"tr":"Excited state decay","t":42.4,"dA":-7.96},{"tr":"Excited state decay","t":46.6,"dA":-7.94},{"tr":"Excited state decay","t":51.3,"dA":-7.84},{"tr":"Excited state decay","t":56.4,"dA":-7.82},{"tr":"Excited state decay","t":62,"dA":-7.72},{"tr":"Excited state decay","t":68.2,"dA":-7.66},{"tr":"Excited state decay","t":75,"dA":-7.58},{"tr":"Excited state decay","t":82.5,"dA":-7.5},{"tr":"Excited state decay","t":90.8,"dA":-7.44},{"tr":"Excited state decay","t":100,"dA":-7.34},{"tr":"Excited state decay","t":110,"dA":-7.26},{"tr":"Excited state decay","t":121,"dA":-7.14},{"tr":"Excited state decay","t":133,"dA":-7.04},{"tr":"Excited state decay","t":146,"dA":-6.9},{"tr":"Excited state decay","t":161,"dA":-6.78},{"tr":"Excited state decay","t":177,"dA":-6.6},{"tr":"Excited state decay","t":195,"dA":-6.46},{"tr":"Excited state decay","t":214,"dA":-6.26},{"tr":"Excited state decay","t":236,"dA":-6.06},{"tr":"Excited state decay","t":259,"dA":-5.84},{"tr":"Excited state decay","t":285,"dA":-5.58},{"tr":"Excited state decay","t":314,"dA":-5.32},{"tr":"Excited state decay","t":345,"dA":-5.04},{"tr":"Excited state decay","t":380,"dA":-4.78},{"tr":"Excited state decay","t":418,"dA":-4.5},{"tr":"Excited state decay","t":459,"dA":-4.18},{"tr":"Excited state decay","t":505,"dA":-3.86},{"tr":"Excited state decay","t":556,"dA":-3.5},{"tr":"Excited state decay","t":611,"dA":-3.16},{"tr":"Excited state decay","t":673,"dA":-2.78},{"tr":"Excited state decay","t":740,"dA":-2.44},{"tr":"Excited state decay","t":814,"dA":-2.08},{"tr":"Excited state decay","t":895,"dA":-1.86},{"tr":"Excited state decay","t":985,"dA":-1.58},{"tr":"Excited state decay","t":1080,"dA":-1.3},{"tr":"Excited state decay","t":1190,"dA":-1.1},{"tr":"Excited state decay","t":1310,"dA":-0.92},{"tr":"Excited state decay","t":1440,"dA":-0.78},{"tr":"Excited state decay","t":1590,"dA":-0.64},{"tr":"Excited state decay","t":1750,"dA":-0.52},{"tr":"Excited state decay","t":1920,"dA":-0.42},{"tr":"Excited state decay","t":2110,"dA":-0.33},{"tr":"Excited state decay","t":2320,"dA":-0.24},{"tr":"Excited state decay","t":2500,"dA":-0.18},

      {"tr":"Fit curve","t":0.135,"dA":-8.66},{"tr":"Fit curve","t":0.5,"dA":-8.66},{"tr":"Fit curve","t":1,"dA":-8.66},{"tr":"Fit curve","t":2,"dA":-8.64},{"tr":"Fit curve","t":3,"dA":-8.62},{"tr":"Fit curve","t":5,"dA":-8.58},{"tr":"Fit curve","t":7,"dA":-8.54},{"tr":"Fit curve","t":10,"dA":-8.48},{"tr":"Fit curve","t":15,"dA":-8.4},{"tr":"Fit curve","t":20,"dA":-8.32},{"tr":"Fit curve","t":30,"dA":-8.16},{"tr":"Fit curve","t":40,"dA":-8.02},{"tr":"Fit curve","t":55,"dA":-7.84},{"tr":"Fit curve","t":70,"dA":-7.66},{"tr":"Fit curve","t":85,"dA":-7.5},{"tr":"Fit curve","t":100,"dA":-7.36},{"tr":"Fit curve","t":120,"dA":-7.16},{"tr":"Fit curve","t":150,"dA":-6.86},{"tr":"Fit curve","t":180,"dA":-6.56},{"tr":"Fit curve","t":210,"dA":-6.3},{"tr":"Fit curve","t":250,"dA":-5.92},{"tr":"Fit curve","t":300,"dA":-5.46},{"tr":"Fit curve","t":350,"dA":-5.02},{"tr":"Fit curve","t":400,"dA":-4.64},{"tr":"Fit curve","t":460,"dA":-4.18},{"tr":"Fit curve","t":520,"dA":-3.76},{"tr":"Fit curve","t":600,"dA":-3.24},{"tr":"Fit curve","t":700,"dA":-2.62},{"tr":"Fit curve","t":800,"dA":-2.18},{"tr":"Fit curve","t":900,"dA":-1.84},{"tr":"Fit curve","t":1000,"dA":-1.56},{"tr":"Fit curve","t":1150,"dA":-1.18},{"tr":"Fit curve","t":1300,"dA":-0.94},{"tr":"Fit curve","t":1500,"dA":-0.7},{"tr":"Fit curve","t":1700,"dA":-0.55},{"tr":"Fit curve","t":1900,"dA":-0.43},{"tr":"Fit curve","t":2100,"dA":-0.34},{"tr":"Fit curve","t":2300,"dA":-0.25},{"tr":"Fit curve","t":2500,"dA":-0.18}
    ]
  },
  "hconcat": [
    {
      "width": 355,
      "height": 297,
      "view": {"stroke": "#333", "strokeWidth": 1.5},
      "title": {"text": "(a)", "anchor": "start", "frame": "group", "orient": "top", "baseline": "top", "offset": 0, "dx": -107, "dy": 42, "fontSize": 41, "font": "Liberation Sans", "fontWeight": "bold", "color": "#111"},
      "layer": [
        {
          "data": {"name": "spectra"},
          "mark": {"type": "line", "clip": true},
          "encoding": {
            "x": {
              "field": "nm", "type": "quantitative",
              "scale": {"domain": [366, 780], "nice": false, "zero": false},
              "axis": {
                "title": "Wavelength (nm)",
                "values": [375, 412.5, 450, 487.5, 525, 562.5, 600, 637.5, 675, 712.5, 750],
                "labelExpr": "(datum.value - 375) % 75 == 0 ? '' + datum.value : ''",
                "tickDash": {"condition": {"test": "(datum.value - 375) % 75 != 0", "value": [4, 20]}, "value": []}
              }
            },
            "y": {
              "field": "dA", "type": "quantitative",
              "scale": {"domain": [-9, 4], "nice": false, "zero": false},
              "axis": {
                "title": "ΔA (mOD)",
                "values": [-8, -6, -4, -2, 0, 2, 4],
                "labelExpr": "'' + datum.value",
                "labelPadding": 12,
                "titlePadding": 13
              }
            },
            "color": {
              "field": "s", "type": "nominal",
              "scale": {
                "domain": ["0-5 ps", "50-150 ps", " ", "1.2-3 ns", "50-100 ns", "100-200 ns", "0.4-1 μs", "1-2.5μs", "GSA (inverted)"],
                "range": ["#000000", "#1c911c", "transparent", "#ff0000", "#22ee22", "#0000ff", "#8a1a1a", "#ff00ff", "#000000"]
              },
              "legend": {"legendX": 148, "legendY": 4, "symbolSize": 1936, "clipHeight": 31.6, "labelOffset": 6}
            },
            "strokeDash": {
              "field": "s", "type": "nominal",
              "scale": {
                "domain": ["0-5 ps", "50-150 ps", " ", "1.2-3 ns", "50-100 ns", "100-200 ns", "0.4-1 μs", "1-2.5μs", "GSA (inverted)"],
                "range": [[12, 4, 2, 4, 2, 4], [20, 8], [1, 0], [12, 4], [12, 4, 2, 4, 2, 4], [1, 0], [18, 6], [18, 6], [3, 5]]
              },
              "legend": {"legendX": 148, "legendY": 4, "symbolSize": 1936, "clipHeight": 31.6, "labelOffset": 6}
            },
            "strokeWidth": {
              "field": "s", "type": "nominal",
              "scale": {
                "type": "ordinal",
                "domain": ["0-5 ps", "50-150 ps", " ", "1.2-3 ns", "50-100 ns", "100-200 ns", "0.4-1 μs", "1-2.5μs", "GSA (inverted)"],
                "range": [1.5, 1.5, 1, 1.5, 1.5, 1.5, 1.5, 1.5, 2.5]
              },
              "legend": {"legendX": 148, "legendY": 4, "symbolSize": 1936, "clipHeight": 31.6, "labelOffset": 6}
            }
          }
        },
        {
          "data": {"values": [{"dA": 0}]},
          "mark": {"type": "rule", "color": "#b4b4b4", "strokeDash": [2, 4], "strokeWidth": 1.5},
          "encoding": {"y": {"field": "dA", "type": "quantitative"}}
        }
      ]
    },
    {
      "width": 351,
      "height": 297,
      "title": {"text": "(b)", "anchor": "start", "frame": "group", "orient": "top", "baseline": "top", "offset": 0, "dx": -117, "dy": 42, "fontSize": 41, "font": "Liberation Sans", "fontWeight": "bold", "color": "#111"},
      "resolve": {"axis": {"x": "independent"}},
      "layer": [
        {
          "data": {"name": "kinetics"},
          "mark": {"type": "line", "clip": true},
          "encoding": {
            "x": {
              "field": "t", "type": "quantitative",
              "scale": {"type": "log", "domain": [0.1, 2774], "nice": false},
              "axis": {"title": "Delay time (ps)", "values": [0.1, 1, 10, 100, 1000], "labelExpr": "'' + datum.value", "titleX": 182}
            },
            "y": {
              "field": "dA", "type": "quantitative",
              "scale": {"domain": [-10, 2], "nice": false, "zero": false},
              "axis": {"title": "ΔA (mOD)", "values": [-10, -8, -6, -4, -2, 0, 2], "labelExpr": "'' + datum.value", "labelPadding": 9, "titlePadding": 10}
            },
            "color": {
              "field": "tr", "type": "nominal",
              "scale": {
                "domain": ["Ground state recovery", "Excited state decay", "Scale curve", "Fit curve"],
                "range": ["#000000", "#ff0000", "#0000ff", "#22dd22"]
              },
              "legend": {"legendX": 26, "legendY": 46.5, "symbolSize": 2025, "clipHeight": 39.4, "labelOffset": 2}
            },
            "strokeDash": {
              "field": "tr", "type": "nominal",
              "scale": {
                "domain": ["Ground state recovery", "Excited state decay", "Scale curve", "Fit curve"],
                "range": [[22, 7], [11, 3], [16, 5, 3, 5], [1, 0]]
              },
              "legend": {"legendX": 26, "legendY": 46.5, "symbolSize": 2025, "clipHeight": 39.4, "labelOffset": 2}
            },
            "strokeWidth": {
              "field": "tr", "type": "nominal",
              "scale": {
                "type": "ordinal",
                "domain": ["Ground state recovery", "Excited state decay", "Scale curve", "Fit curve"],
                "range": [4.5, 4.5, 1.5, 1.5]
              },
              "legend": {"legendX": 26, "legendY": 46.5, "symbolSize": 2025, "clipHeight": 39.4, "labelOffset": 2}
            }
          }
        },
        {
          "data": {"values": [{"t": 1}]},
          "mark": {"type": "point", "opacity": 0},
          "encoding": {
            "x": {
              "field": "t", "type": "quantitative",
              "scale": {"type": "log", "domain": [0.1, 2774], "nice": false},
              "axis": {"orient": "top", "labels": false, "ticks": false, "title": null, "domain": true}
            }
          }
        }
      ]
    }
  ]
}
